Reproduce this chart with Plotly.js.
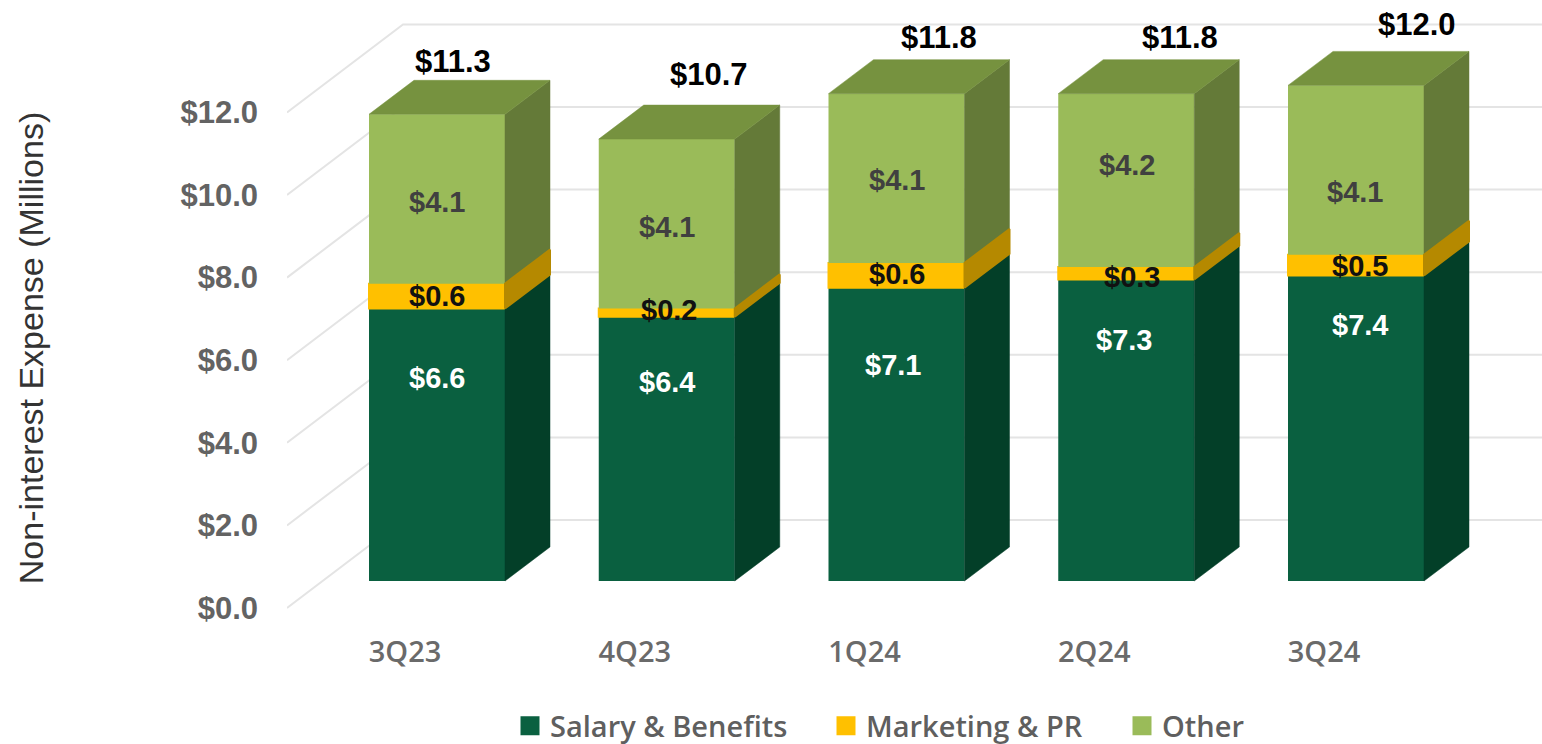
<!DOCTYPE html>
<html>
<head>
<meta charset="utf-8">
<script src="https://cdn.plot.ly/plotly-3.0.1.min.js"></script>
<style>html,body{margin:0;padding:0;background:#fff}#chart{width:1542px;height:744px}</style>
</head>
<body>
<div id="chart"></div>
<script>
// ---- data ----
var quarters = ['3Q23', '4Q23', '1Q24', '2Q24', '3Q24'];
var salary = [6.6, 6.4, 7.1, 7.3, 7.4];
var marketing = [0.6, 0.2, 0.6, 0.3, 0.5];
var other = [4.1, 4.1, 4.1, 4.2, 4.1];
var totals = [11.3, 10.7, 11.8, 11.8, 12.0];
var axisTicks = [0, 2, 4, 6, 8, 10, 12];
var axisTickText = ['$0.0', '$2.0', '$4.0', '$6.0', '$8.0', '$10.0', '$12.0'];

// ---- pixel nudges for label placement (style, not data) ----
var salaryShiftX = [0, 0, -4, -2, 4],     salaryShiftY = [67, 67, 69, 90, 103];
var marketingShiftX = [0, 2, 0, 6, 4],    marketingShiftY = [0, 3, 1, -4, -1];
var otherShiftX = [0, 0, 0, 1, -1],       otherShiftY = [-3, -3, -2, 15, -22];
var totalShiftX = [16, 42, 42, 54, 61],   totalShiftY = [53, 65, 56, 56, 61];

// ---- geometry in axis units ----
var pxX = 229.75, pxY = 41.3;
var barW = 136 / pxX, depthX = 45 / pxX, depthY = 34 / pxY;
var gridDX = 116 / pxX, gridDY = 88 / pxY;
var xIdx = quarters.map(function (_, i) { return i; });
var xLeft = (287 - 437) / pxX, xRight = (1542 - 437) / pxX;

var colors = {
  salary: '#0A6040', salarySide: '#033F28',
  marketing: '#FFC000', marketingSide: '#B58900',
  other: '#9ABB59', otherSide: '#647A38', otherTop: '#76923F'
};

var font = 'Liberation Sans, Arial, sans-serif';
var legendFont = {family: 'Open Sans, sans-serif', size: 29, weight: 600, color: '#5f5f5f'};

var traces = [];

// gridlines on the back wall and side wall (front plane axis y)
var gx = [], gy = [];
axisTicks.forEach(function (v) {
  gx.push(xLeft, xLeft + gridDX, xRight, null);
  gy.push(v, v + gridDY, v + gridDY, null);
});
traces.push({type: 'scatter', mode: 'lines', x: gx, y: gy, yaxis: 'y',
  line: {color: '#E4E4E4', width: 2}, hoverinfo: 'skip', showlegend: false, connectgaps: false});

// helpers for stacked segments
var base1 = salary.map(function () { return 0; });
var base2 = salary.slice();
var base3 = salary.map(function (v, i) { return v + marketing[i]; });

function barTrace(name, vals, base, color, lw) {
  return {type: 'bar', name: name, x: xIdx, y: vals, base: base, width: barW, yaxis: 'y2',
    marker: {color: color, line: {color: color, width: lw}}, showlegend: false, hoverinfo: 'skip'};
}
traces.push(barTrace('Salary & Benefits', salary, base1, colors.salary, 0));
traces.push(barTrace('Marketing & PR', marketing, base2, colors.marketing, 2));
traces.push(barTrace('Other', other, base3, colors.other, 0));

function sideFace(vals, base, color, lw) {
  var x = [], y = [];
  vals.forEach(function (v, i) {
    var r = i + barW / 2, lo = base[i], hi = base[i] + v;
    x.push(r, r + depthX, r + depthX, r, r, null);
    y.push(lo, lo + depthY, hi + depthY, hi, lo, null);
  });
  return {type: 'scatter', mode: 'lines', x: x, y: y, yaxis: 'y2', fill: 'toself', fillcolor: color,
    line: {color: color, width: lw}, hoverinfo: 'skip', showlegend: false};
}
traces.push(sideFace(salary, base1, colors.salarySide, 0.5));
traces.push(sideFace(other, base3, colors.otherSide, 0.5));
traces.push(sideFace(marketing, base2, colors.marketingSide, 2));

// top face
(function () {
  var x = [], y = [];
  totals.forEach(function (t, i) {
    var l = i - barW / 2, r = i + barW / 2;
    x.push(l, r, r + depthX, l + depthX, l, null);
    y.push(t, t, t + depthY, t + depthY, t, null);
  });
  traces.push({type: 'scatter', mode: 'lines', x: x, y: y, yaxis: 'y2', fill: 'toself',
    fillcolor: colors.otherTop, line: {color: colors.otherTop, width: 0.5},
    hoverinfo: 'skip', showlegend: false});
})();

// legend entries
function legendEntry(name, color, legendId) {
  return {type: 'scatter', mode: 'markers', name: name, x: [null], y: [null], yaxis: 'y',
    legend: legendId, showlegend: true, hoverinfo: 'skip',
    marker: {symbol: 'square', size: 16, color: color, line: {color: color, width: 3}}};
}
traces.push(legendEntry('Salary & Benefits', colors.salary, 'legend'));
traces.push(legendEntry('Marketing & PR', colors.marketing, 'legend2'));
traces.push(legendEntry('Other', colors.other, 'legend3'));

// annotations
var annotations = [];
function addLabels(vals, base, color, sx, sy) {
  vals.forEach(function (v, i) {
    annotations.push({x: i, y: base[i] + v / 2, xref: 'x', yref: 'y2', showarrow: false,
      text: '$' + v.toFixed(1), xshift: sx[i], yshift: sy[i],
      font: {family: font, size: 29, weight: 700, color: color}});
  });
}
addLabels(salary, base1, '#FFFFFF', salaryShiftX, salaryShiftY);
addLabels(marketing, base2, '#111111', marketingShiftX, marketingShiftY);
addLabels(other, base3, '#404040', otherShiftX, otherShiftY);
totals.forEach(function (t, i) {
  annotations.push({x: i, y: t, xref: 'x', yref: 'y2', showarrow: false,
    text: '$' + t.toFixed(1), xshift: totalShiftX[i], yshift: totalShiftY[i],
    font: {family: font, size: 31, weight: 700, color: '#000000'}});
});

function legendBox(px) {
  return {orientation: 'h', x: (px - 287) / 1255, xanchor: 'left', y: (696 - 726) / 696, yanchor: 'middle',
    bgcolor: 'rgba(0,0,0,0)', borderwidth: 0, font: legendFont};
}

var layout = {
  width: 1542, height: 744,
  margin: {l: 287, r: 0, t: 0, b: 48, pad: 0, autoexpand: false},
  paper_bgcolor: '#FFFFFF', plot_bgcolor: '#FFFFFF',
  barmode: 'overlay', hovermode: false,
  xaxis: {
    range: [xLeft, xRight], anchor: 'free', position: (696 - 632) / 696,
    tickmode: 'array',
    tickvals: xIdx.map(function (i) { return i - 0.139; }), ticktext: quarters,
    showgrid: false, zeroline: false, showline: false, ticks: '',
    tickfont: {family: 'Open Sans, sans-serif', size: 29, weight: 600, color: '#6a6a6a'}
  },
  yaxis: {
    range: [-88 / pxY, 608 / pxY],
    tickmode: 'array', tickvals: axisTicks, ticktext: axisTickText,
    showgrid: false, zeroline: false, showline: false, ticks: '',
    ticklabelstandoff: 28,
    tickfont: {family: font, size: 31, weight: 700, color: '#636363'},
    title: {text: 'Non-interest Expense (Millions)', standoff: 126,
      font: {family: 'Liberation Sans, Arial, sans-serif', size: 34, color: '#333333'}}
  },
  yaxis2: {
    range: [-115 / pxY, 581 / pxY], overlaying: 'y', side: 'left', visible: false
  },
  legend: legendBox(510),
  legend2: legendBox(826),
  legend3: legendBox(1122),
  annotations: annotations
};

Plotly.newPlot('chart', traces, layout, {displayModeBar: false, responsive: false});
</script>
</body>
</html>
